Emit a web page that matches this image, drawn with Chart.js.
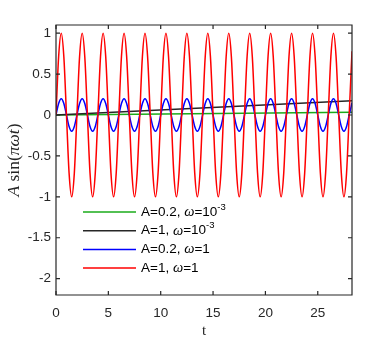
<!DOCTYPE html>
<html><head><meta charset="utf-8">
<script src="https://cdn.jsdelivr.net/npm/chart.js@4"></script>
<style>html,body{margin:0;padding:0;background:#fff}canvas{display:block}</style>
</head><body><canvas id="c" width="390" height="341"></canvas>
<script>
// time samples (eighth-period)
const tValues = [
 0,0.25,0.5,0.75,1,1.25,1.5,1.75,
 2,2.25,2.5,2.75,3,3.25,3.5,3.75,
 4,4.25,4.5,4.75,5,5.25,5.5,5.75,
 6,6.25,6.5,6.75,7,7.25,7.5,7.75,
 8,8.25,8.5,8.75,9,9.25,9.5,9.75,
 10,10.25,10.5,10.75,11,11.25,11.5,11.75,
 12,12.25,12.5,12.75,13,13.25,13.5,13.75,
 14,14.25,14.5,14.75,15,15.25,15.5,15.75,
 16,16.25,16.5,16.75,17,17.25,17.5,17.75,
 18,18.25,18.5,18.75,19,19.25,19.5,19.75,
 20,20.25,20.5,20.75,21,21.25,21.5,21.75,
 22,22.25,22.5,22.75,23,23.25,23.5,23.75,
 24,24.25,24.5,24.75,25,25.25,25.5,25.75,
 26,26.25,26.5,26.75,27,27.25,27.5,27.75,
 28,28.27
];
// A=1, omega=1
const redValues = [
 0,0.71,1,0.71,0,-0.71,-1,-0.71,
 0,0.71,1,0.71,0,-0.71,-1,-0.71,
 0,0.71,1,0.71,0,-0.71,-1,-0.71,
 0,0.71,1,0.71,0,-0.71,-1,-0.71,
 0,0.71,1,0.71,0,-0.71,-1,-0.71,
 0,0.71,1,0.71,0,-0.71,-1,-0.71,
 0,0.71,1,0.71,0,-0.71,-1,-0.71,
 0,0.71,1,0.71,0,-0.71,-1,-0.71,
 0,0.71,1,0.71,0,-0.71,-1,-0.71,
 0,0.71,1,0.71,0,-0.71,-1,-0.71,
 0,0.71,1,0.71,0,-0.71,-1,-0.71,
 0,0.71,1,0.71,0,-0.71,-1,-0.71,
 0,0.71,1,0.71,0,-0.71,-1,-0.71,
 0,0.71,1,0.71,0,-0.71,-1,-0.71,
 0,0.78
];
// A=0.2, omega=1
const blueValues = [
 0,0.14,0.2,0.14,0,-0.14,-0.2,-0.14,
 0,0.14,0.2,0.14,0,-0.14,-0.2,-0.14,
 0,0.14,0.2,0.14,0,-0.14,-0.2,-0.14,
 0,0.14,0.2,0.14,0,-0.14,-0.2,-0.14,
 0,0.14,0.2,0.14,0,-0.14,-0.2,-0.14,
 0,0.14,0.2,0.14,0,-0.14,-0.2,-0.14,
 0,0.14,0.2,0.14,0,-0.14,-0.2,-0.14,
 0,0.14,0.2,0.14,0,-0.14,-0.2,-0.14,
 0,0.14,0.2,0.14,0,-0.14,-0.2,-0.14,
 0,0.14,0.2,0.14,0,-0.14,-0.2,-0.14,
 0,0.14,0.2,0.14,0,-0.14,-0.2,-0.14,
 0,0.14,0.2,0.14,0,-0.14,-0.2,-0.14,
 0,0.14,0.2,0.14,0,-0.14,-0.2,-0.14,
 0,0.14,0.2,0.14,0,-0.14,-0.2,-0.14,
 0,0.15
];
// slow curves (omega = 1e-3) are nearly straight
const slowT = [0, 28.27];
const blackValues = [0, 0.175];
const greenValues = [0, 0.035];

const xTicks = [0,5,10,15,20,25];
const yTicks = [-2,-1.5,-1,-0.5,0,0.5,1];
const xRange = [0, 28.27];
const yRange = [-2.2, 1.1];
const seriesNames = ['A=0.2, ω=10^-3','A=1, ω=10^-3','A=0.2, ω=1','A=1, ω=1'];
const seriesColors = ['#1aab1a','#262626','#0000ff','#ff0000'];

const SANS = '"Liberation Sans", Arial, Helvetica, sans-serif';
const SERIF = '"Liberation Serif", "Times New Roman", serif';
const AXC = '#262626';

const pts = (xs, ys) => xs.map((x,i)=>({x:x, y:ys[i]}));

const frameTicks = {
  id:'frameTicks',
  afterDatasetsDraw(chart){
    const ctx = chart.ctx, a = chart.chartArea;
    const xs = chart.scales.x, ys = chart.scales.y;
    ctx.save();
    ctx.strokeStyle = AXC; ctx.lineWidth = 1.2;
    ctx.beginPath();
    ctx.rect(a.left, a.top, a.right-a.left, a.bottom-a.top);
    ctx.stroke();
    ctx.beginPath();
    const L = 4;
    xTicks.forEach(v=>{const p = xs.getPixelForValue(v);
      ctx.moveTo(p,a.bottom); ctx.lineTo(p,a.bottom-L);
      ctx.moveTo(p,a.top); ctx.lineTo(p,a.top+L);});
    yTicks.forEach(v=>{const p = ys.getPixelForValue(v);
      ctx.moveTo(a.left,p); ctx.lineTo(a.left+L,p);
      ctx.moveTo(a.right,p); ctx.lineTo(a.right-L,p);});
    ctx.stroke();
    ctx.restore();
  }
};

function drawSegs(ctx, segs, x, y){
  segs.forEach(s=>{
    ctx.font = s.font;
    ctx.fillText(s.text, x, y + (s.dy||0));
    x += ctx.measureText(s.text).width;
  });
  return x;
}
function segWidth(ctx, segs){
  let w = 0;
  segs.forEach(s=>{ctx.font = s.font; w += ctx.measureText(s.text).width;});
  return w;
}

const legendPlugin = {
  id:'legendPlugin',
  afterDraw(chart){
    const ctx = chart.ctx;
    ctx.save();
    ctx.textBaseline = 'middle';
    const x0 = 83, x1 = 136, tx = 141, y0 = 212, dy = 18.7;
    seriesNames.forEach((name,i)=>{
      const y = y0 + i*dy;
      ctx.strokeStyle = seriesColors[i]; ctx.lineWidth = 1.5;
      ctx.beginPath(); ctx.moveTo(x0,y); ctx.lineTo(x1,y); ctx.stroke();
      const [pre, post] = name.split('ω');
      const [base, sup] = post.split('^');
      const segs = [
        {text:pre, font:'13.5px '+SANS},
        {text:'ω', font:'italic 14.5px '+SERIF},
        {text:base, font:'13.5px '+SANS}
      ];
      if (sup) segs.push({text:sup, font:'9.5px '+SANS, dy:-5});
      ctx.fillStyle = '#000';
      drawSegs(ctx, segs, tx, y);
    });
    // y-axis label
    const segs = [
      {text:'A', font:'italic 17.5px '+SERIF},
      {text:' sin(', font:'17.5px '+SERIF},
      {text:'πωt', font:'italic 17.5px '+SERIF},
      {text:')', font:'17.5px '+SERIF}
    ];
    ctx.translate(14, 160);
    ctx.rotate(-Math.PI/2);
    ctx.fillStyle = AXC;
    const w = segWidth(ctx, segs);
    drawSegs(ctx, segs, -w/2, 0);
    ctx.restore();
  }
};

new Chart(document.getElementById('c'), {
  type:'line',
  data:{datasets:[
    {label:seriesNames[0], data:pts(slowT, greenValues), borderColor:seriesColors[0], order:3},
    {label:seriesNames[1], data:pts(slowT, blackValues), borderColor:seriesColors[1], order:2},
    {label:seriesNames[2], data:pts(tValues, blueValues), borderColor:seriesColors[2], order:1, cubicInterpolationMode:'monotone'},
    {label:seriesNames[3], data:pts(tValues, redValues), borderColor:seriesColors[3], order:0, cubicInterpolationMode:'monotone'}
  ]},
  options:{
    responsive:false, animation:false, devicePixelRatio:1,
    layout:{padding:{top:25, right:38, left:0, bottom:0}},
    elements:{point:{radius:0}, line:{borderWidth:1.5, fill:false}},
    plugins:{legend:{display:false}, tooltip:{enabled:false}},
    scales:{
      x:{type:'linear', min:xRange[0], max:xRange[1],
        grid:{display:false, drawTicks:false}, border:{display:false},
        afterBuildTicks:s=>{s.ticks = xTicks.map(v=>({value:v}));},
        afterFit:s=>{s.height = 46;},
        ticks:{padding:10, color:AXC, font:{family:SANS, size:13.5}, maxRotation:0, autoSkip:false, callback:v=>String(v)},
        title:{display:true, text:'t', color:AXC, font:{family:SERIF, size:15}, padding:{top:0, bottom:1}}
      },
      y:{type:'linear', min:yRange[0], max:yRange[1],
        grid:{display:false, drawTicks:false}, border:{display:false},
        afterBuildTicks:s=>{s.ticks = yTicks.map(v=>({value:v}));},
        afterFit:s=>{s.width = 56;},
        ticks:{padding:5, color:AXC, font:{family:SANS, size:13.5}, autoSkip:false, callback:v=>String(v)}
      }
    }
  },
  plugins:[frameTicks, legendPlugin]
});
</script>
</body></html>
